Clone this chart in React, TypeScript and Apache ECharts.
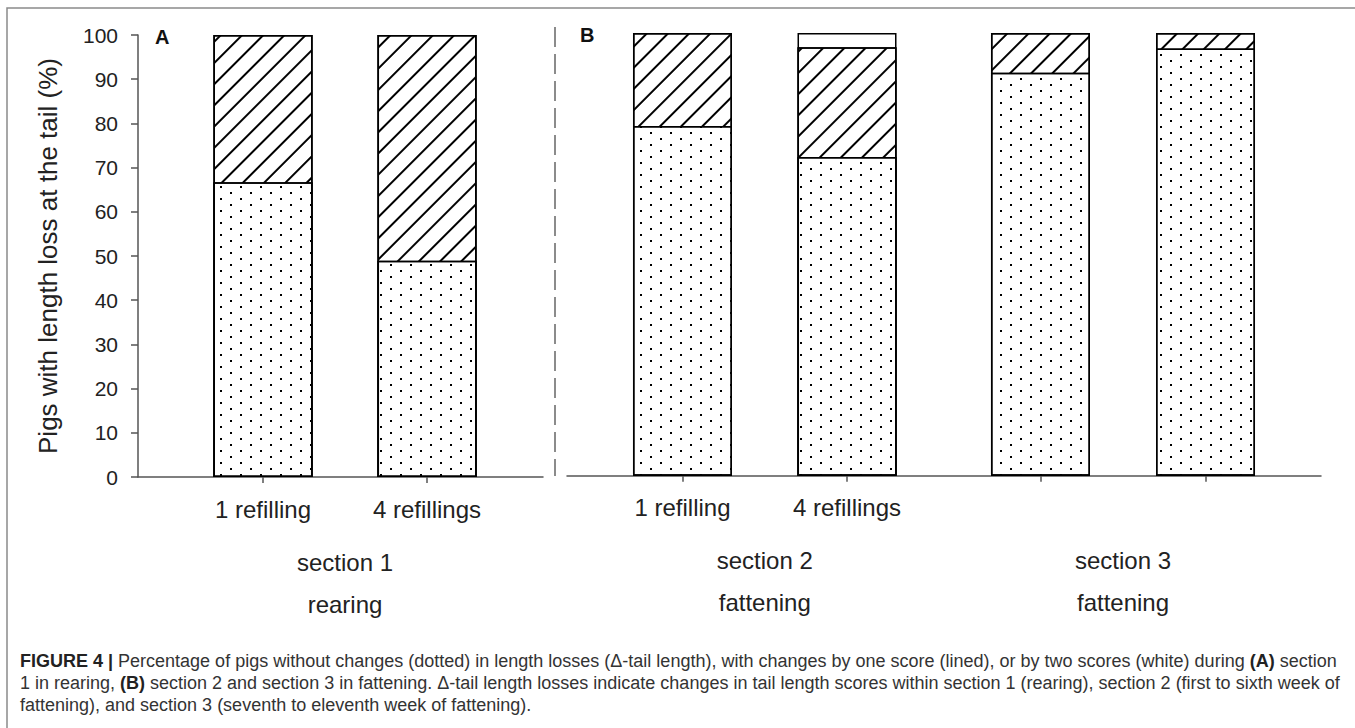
import React, { useEffect, useRef } from "react";
import * as echarts from "echarts";

// ---- data ----
const categories = ["1 refilling", "4 refillings", "1 refilling", "4 refillings"];
const sectionLabels = ["section 1\nrearing", "section 2\nfattening", "section 3\nfattening"];
const yTicks = [0, 10, 20, 30, 40, 50, 60, 70, 80, 90, 100];

// panel A (section 1)
const noChangeA = [66.7, 48.9];
const oneScoreA = [33.3, 51.1];
const twoScoresA = [0, 0];

// panel B (section 2, section 3)
const noChangeB = [79.0, 72.0, 91.0, 96.5];
const oneScoreB = [21.0, 24.8, 9.0, 3.5];
const twoScoresB = [0, 3.2, 0, 0];

// ---- layout (slot positions on the x scale) ----
const slotsA = [0, 1];
const slotsB = [0, 1, 2.176, 3.179];
const sectionSlotsA = [0.5];
const sectionSlotsB = [0.5, 2.6775];

const FONT = "'Liberation Sans', Arial, Helvetica, sans-serif";

const dotDecal = {
  symbol: "rect",
  symbolSize: 1,
  color: "#000",
  backgroundColor: "#fff",
  dashArrayX: [
    [2, 18],
    [0, 10, 2, 8],
  ],
  dashArrayY: [2, 4],
  rotation: 0,
};

const hatchDecal = {
  symbol: "rect",
  symbolSize: 1,
  color: "#000",
  backgroundColor: "#fff",
  dashArrayX: [1, 0],
  dashArrayY: [1.2, 13],
  rotation: -Math.PI / 4,
};

const barStyle = (decal: any) => ({
  color: "#fff",
  borderColor: "#000",
  borderWidth: 1.5,
  decal,
});

// cumulative tops of the stacked segments (bars are overlaid, largest first)
const cum = (...arrs: number[][]) => arrs[0].map((_, i) => arrs.reduce((s, a) => s + a[i], 0));
const pairs = (slots: number[], vals: number[]) => vals.map((v, i) => [slots[i], v]);

export default function App() {
  const ref = useRef<HTMLDivElement>(null);
  useEffect(() => {
    document.body.style.margin = "0";
    const chart = echarts.init(ref.current!, null, { renderer: "svg" });

    const catLabel = (slots: number[], offset: number) => (v: number) => {
      const idx = slots.findIndex((s) => Math.abs(s - v) < 1e-6);
      return idx >= 0 ? categories[offset + idx] : "";
    };
    const secLabel = (slots: number[], offset: number) => (v: number) => {
      const idx = slots.findIndex((s) => Math.abs(s - v) < 1e-6);
      return idx >= 0 ? sectionLabels[offset + idx] : "";
    };

    const axisLineStyle = { color: "#555", width: 1.5 };

    const mkXAxis = (grid: number, min: number, max: number, slots: number[], fmt: any) => ({
      type: "value",
      gridIndex: grid,
      min,
      max,
      splitLine: { show: false },
      axisLine: { show: true, onZero: false, lineStyle: axisLineStyle },
      axisTick: { show: true, length: 6, customValues: slots, lineStyle: axisLineStyle },
      axisLabel: {
        customValues: slots,
        formatter: fmt,
        fontSize: 24,
        fontFamily: FONT,
        color: "#222",
        margin: 20,
      },
    });
    const mkSecAxis = (grid: number, min: number, max: number, slots: number[], fmt: any) => ({
      type: "value",
      gridIndex: grid,
      position: "bottom",
      min,
      max,
      splitLine: { show: false },
      axisLine: { show: false, onZero: false },
      axisTick: { show: false },
      axisLabel: {
        customValues: slots,
        formatter: fmt,
        fontSize: 24,
        fontFamily: FONT,
        color: "#222",
        lineHeight: 42,
        margin: 64,
      },
    });

    const mkSeries = (name: string, xi: number, yi: number, data: any[], decal: any) => ({
      name,
      type: "bar",
      xAxisIndex: xi,
      yAxisIndex: yi,
      barWidth: 99,
      barGap: "-100%",
      data,
      itemStyle: barStyle(decal),
      emphasis: { disabled: true },
    });

    const captionStyle = {
      fontSize: 18,
      fontFamily: FONT,
      fill: "#333",
      rich: {
        b: { fontSize: 18, fontFamily: FONT, fontWeight: "bold", fill: "#222" },
        n: { fontSize: 18, fontFamily: FONT, fill: "#333" },
      },
    };

    const option: any = {
      animation: false,
      backgroundColor: "#fff",
      grid: [
        { left: 138, top: 35, width: 405, height: 442 },
        { left: 567, top: 33, width: 754, height: 442.7 },
      ],
      xAxis: [
        mkXAxis(0, -0.762, 1.707, slotsA, catLabel(slotsA, 0)),
        mkXAxis(1, -0.702, 3.881, slotsB, catLabel(slotsB, 2)),
        mkSecAxis(0, -0.762, 1.707, sectionSlotsA, secLabel(sectionSlotsA, 0)),
        mkSecAxis(1, -0.702, 3.881, sectionSlotsB, secLabel(sectionSlotsB, 1)),
      ],
      yAxis: [
        {
          type: "value",
          gridIndex: 0,
          min: 0,
          max: 100,
          interval: 10,
          name: "Pigs with length loss at the tail (%)",
          nameLocation: "middle",
          nameGap: 77,
          nameTextStyle: { fontSize: 26, fontFamily: FONT, color: "#222" },
          splitLine: { show: false },
          axisLine: { show: true, onZero: false, lineStyle: axisLineStyle },
          axisTick: { show: true, length: 7, lineStyle: axisLineStyle },
          axisLabel: {
            fontSize: 21,
            fontFamily: FONT,
            color: "#222",
            margin: 20,
            customValues: yTicks,
          },
        },
        {
          type: "value",
          gridIndex: 1,
          min: 0,
          max: 100,
          show: false,
        },
      ],
      series: [
        mkSeries("two scores", 0, 0, pairs(slotsA, cum(noChangeA, oneScoreA, twoScoresA)), null),
        mkSeries("one score", 0, 0, pairs(slotsA, cum(noChangeA, oneScoreA)), hatchDecal),
        mkSeries("no change", 0, 0, pairs(slotsA, noChangeA), dotDecal),
        mkSeries("two scores", 1, 1, pairs(slotsB, cum(noChangeB, oneScoreB, twoScoresB)), null),
        mkSeries("one score", 1, 1, pairs(slotsB, cum(noChangeB, oneScoreB)), hatchDecal),
        mkSeries("no change", 1, 1, pairs(slotsB, noChangeB), dotDecal),
      ],
      graphic: [
        {
          type: "rect",
          shape: { x: 7, y: 8, width: 1360, height: 760 },
          style: { fill: "none", stroke: "#8a8a8a", lineWidth: 1.5 },
          silent: true,
        },
        {
          type: "line",
          shape: { x1: 555, y1: 27, x2: 555, y2: 476 },
          style: { stroke: "#666", lineWidth: 1.5, lineDash: [20, 7] },
          silent: true,
        },
        {
          type: "text",
          x: 155,
          y: 27,
          style: { text: "A", fontSize: 20, fontWeight: "bold", fontFamily: FONT, fill: "#111" },
        },
        {
          type: "text",
          x: 580,
          y: 25,
          style: { text: "B", fontSize: 20, fontWeight: "bold", fontFamily: FONT, fill: "#111" },
        },
        {
          type: "text",
          x: 20,
          y: 652,
          style: {
            ...captionStyle,
            text:
              "{b|FIGURE 4 |}{n| Percentage of pigs without changes (dotted) in length losses (Δ-tail length), with changes by one score (lined), or by two scores (white) during }{b|(A)}{n| section}",
          },
        },
        {
          type: "text",
          x: 20,
          y: 674,
          style: {
            ...captionStyle,
            text:
              "{n|1 in rearing, }{b|(B)}{n| section 2 and section 3 in fattening. Δ-tail length losses indicate changes in tail length scores within section 1 (rearing), section 2 (first to sixth week of}",
          },
        },
        {
          type: "text",
          x: 20,
          y: 696,
          style: {
            ...captionStyle,
            text: "{n|fattening), and section 3 (seventh to eleventh week of fattening).}",
          },
        },
      ],
    };

    chart.setOption(option);
    return () => chart.dispose();
  }, []);

  return <div ref={ref} style={{ width: 1355, height: 728 }} />;
}
